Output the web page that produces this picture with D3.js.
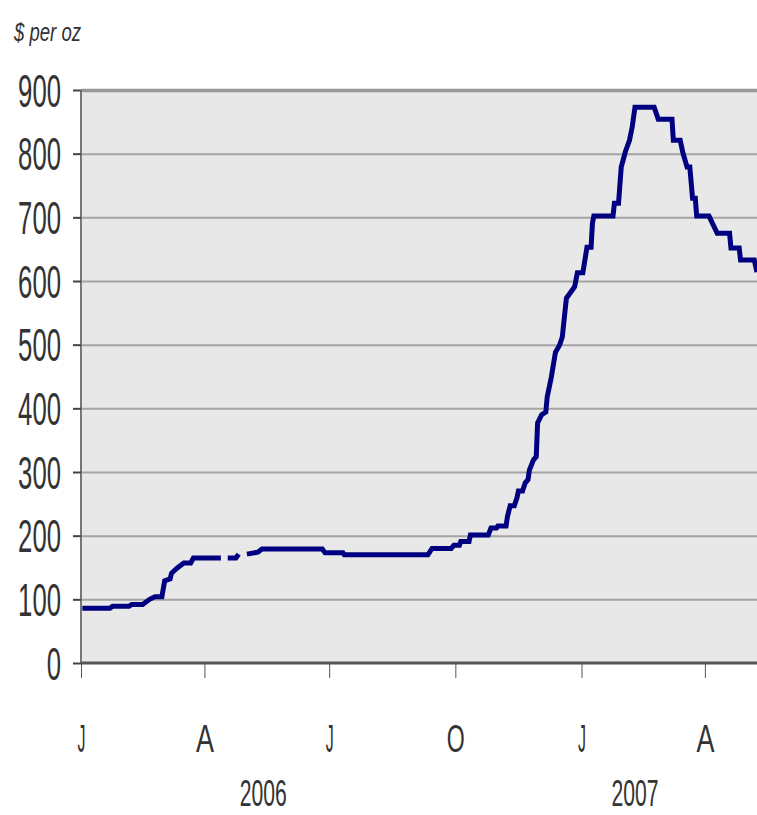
<!DOCTYPE html>
<html>
<head>
<meta charset="utf-8">
<script src="https://cdn.jsdelivr.net/npm/d3@7"></script>
<style>
  html, body { margin: 0; padding: 0; background: #fff; }
  svg { display: block; }
</style>
</head>
<body>
<div id="chart"></div>
<script>
// price series ($ per oz); null = gap in the source line
var priceDates = [
  '2006-01-02','2006-01-22','2006-01-24','2006-02-05','2006-02-07','2006-02-15','2006-02-20','2006-02-24',
  '2006-03-01','2006-03-03','2006-03-07','2006-03-08','2006-03-12','2006-03-17','2006-03-22','2006-03-24',
  '2006-04-13','2006-04-16','2006-04-18','2006-04-24','2006-04-26','2006-04-29','2006-05-02','2006-05-10',
  '2006-05-13','2006-06-26','2006-06-28','2006-07-11','2006-07-12','2006-09-11','2006-09-14','2006-09-28',
  '2006-09-30','2006-10-04','2006-10-05','2006-10-11','2006-10-12','2006-10-25','2006-10-27','2006-10-31',
  '2006-11-01','2006-11-07','2006-11-08','2006-11-10','2006-11-13','2006-11-15','2006-11-16','2006-11-19',
  '2006-11-21','2006-11-23','2006-11-24','2006-11-27','2006-11-29','2006-11-30','2006-12-03','2006-12-06',
  '2006-12-07','2006-12-10','2006-12-13','2006-12-16','2006-12-18','2006-12-21','2006-12-27','2006-12-29',
  '2007-01-02','2007-01-05','2007-01-08','2007-01-09','2007-01-10','2007-01-24','2007-01-25','2007-01-28',
  '2007-01-30','2007-02-02','2007-02-05','2007-02-07','2007-02-09','2007-02-23','2007-02-26','2007-03-08',
  '2007-03-09','2007-03-14','2007-03-16','2007-03-19','2007-03-21','2007-03-23','2007-03-25','2007-03-26',
  '2007-04-04','2007-04-10','2007-04-19','2007-04-20','2007-04-26','2007-04-27','2007-05-07','2007-05-09'
];
var priceValues = [
  86, 86, 89, 89, 92, 92, 100, 104,
  104, 129, 132, 141, 149, 157, 157, 165,
  165, null, 165, 165, 171, null, 171, 174,
  179, 179, 173, 173, 170, 170, 180, 180,
  185, 185, 191, 191, 201, 201, 212, 212,
  215, 215, 230, 247, 247, 260, 270, 270,
  283, 288, 303, 319, 324, 377, 390, 394,
  418, 449, 488, 499, 512, 573, 591, 613,
  613, 653, 653, 691, 702, 702, 722, 722,
  779, 803, 821, 842, 873, 873, 854, 854,
  821, 821, 801, 779, 779, 730, 730, 702,
  702, 675, 675, 652, 652, 633, 633, 614
];

var yTicks = [0, 100, 200, 300, 400, 500, 600, 700, 800, 900];
var xTickDates = ['2006-01-01','2006-04-01','2006-07-01','2006-10-01','2007-01-01','2007-04-01'];
var xTickLabels = ['J', 'A', 'J', 'O', 'J', 'A'];
var yearLabels = ['2006', '2007'];
var yearLabelDates = ['2006-05-14', '2007-02-09'];
var unitLabel = '$ per oz';

var parseDate = d3.utcParse('%Y-%m-%d');
var W = 757, H = 815;
var plotL = 81, plotR = 757, plotT = 90, plotB = 663;
var fontFam = '"Liberation Sans Narrow", "Arial Narrow", sans-serif';
var textColor = '#333';

var svg = d3.select('#chart').append('svg')
  .attr('width', W)
  .attr('height', H);

var x = d3.scaleUtc()
  .domain([parseDate('2006-01-01'), parseDate('2007-05-09')])
  .range([plotL, plotR]);

var y = d3.scaleLinear()
  .domain([0, 900])
  .range([plotB, plotT]);

// plot background
svg.append('rect')
  .attr('x', plotL)
  .attr('y', plotT)
  .attr('width', plotR - plotL)
  .attr('height', plotB - plotT)
  .style('fill', '#e8e8e8');

// horizontal gridlines
var grid = svg.append('g')
  .attr('transform', 'translate(' + plotL + ',0)')
  .call(d3.axisLeft(y).tickValues(yTicks.slice(1)).tickSize(-(plotR - plotL)).tickFormat(''));
grid.select('.domain').remove();
grid.selectAll('line')
  .style('stroke', function(d) { return d === 900 ? '#999' : '#a4a4a4'; })
  .style('stroke-width', function(d) { return d === 900 ? 3.5 : 2; });

// y axis
var yAxis = svg.append('g')
  .attr('transform', 'translate(' + plotL + ',0)')
  .call(d3.axisLeft(y).tickValues(yTicks).tickSize(8).tickPadding(12).tickFormat(d3.format('d')));
yAxis.select('.domain').attr('d', 'M0,' + plotT + 'V' + plotB).style('stroke', '#777').style('stroke-width', 2);
yAxis.selectAll('.tick line').style('stroke', '#444').style('stroke-width', 2);
yAxis.selectAll('.tick text')
  .attr('dy', 16)
  .attr('textLength', function(d) { return String(d).length * 14.3; })
  .attr('lengthAdjust', 'spacingAndGlyphs')
  .style('font-family', fontFam)
  .style('font-size', '46px')
  .style('fill', textColor);

// x axis
var xAxis = svg.append('g')
  .attr('transform', 'translate(0,' + plotB + ')')
  .call(d3.axisBottom(x)
    .tickValues(xTickDates.map(parseDate))
    .tickSize(15)
    .tickFormat(function(d, i) { return xTickLabels[i]; }));
xAxis.select('.domain').attr('d', 'M' + plotL + ',0H' + plotR).style('stroke', '#555').style('stroke-width', 3);
xAxis.selectAll('.tick line').style('stroke', '#555').style('stroke-width', 1);
xAxis.selectAll('.tick text')
  .attr('y', 89)
  .attr('dy', 0)
  .attr('textLength', function(d, i) { return xTickLabels[i] === 'J' ? 8 : 18; })
  .attr('lengthAdjust', 'spacingAndGlyphs')
  .style('font-family', fontFam)
  .style('font-size', '38px')
  .style('fill', textColor);

// year labels under the month ticks
svg.selectAll('.year')
  .data(yearLabels)
  .enter().append('text')
  .attr('class', 'year')
  .attr('x', function(d, i) { return x(parseDate(yearLabelDates[i])); })
  .attr('y', 806)
  .attr('text-anchor', 'middle')
  .attr('textLength', 47)
  .attr('lengthAdjust', 'spacingAndGlyphs')
  .style('font-family', fontFam)
  .style('font-size', '37px')
  .style('fill', textColor)
  .text(function(d) { return d; });

// unit label
svg.append('text')
  .attr('x', 14)
  .attr('y', 41)
  .attr('textLength', 67)
  .attr('lengthAdjust', 'spacingAndGlyphs')
  .style('font-family', fontFam)
  .style('font-style', 'italic')
  .style('font-size', '26px')
  .style('fill', textColor)
  .text(unitLabel);

// price line
var series = priceDates.map(function(d, i) { return { date: parseDate(d), value: priceValues[i] }; });

svg.append('clipPath').attr('id', 'plotClip')
  .append('rect')
  .attr('x', plotL).attr('y', 0)
  .attr('width', plotR - plotL).attr('height', H);

var line = d3.line()
  .defined(function(d) { return d.value !== null; })
  .x(function(d) { return x(d.date); })
  .y(function(d) { return y(d.value); });

svg.append('path')
  .datum(series)
  .attr('clip-path', 'url(#plotClip)')
  .attr('d', line)
  .style('fill', 'none')
  .style('stroke', '#000080')
  .style('stroke-width', 5)
  .style('stroke-linejoin', 'miter');
</script>
</body>
</html>
